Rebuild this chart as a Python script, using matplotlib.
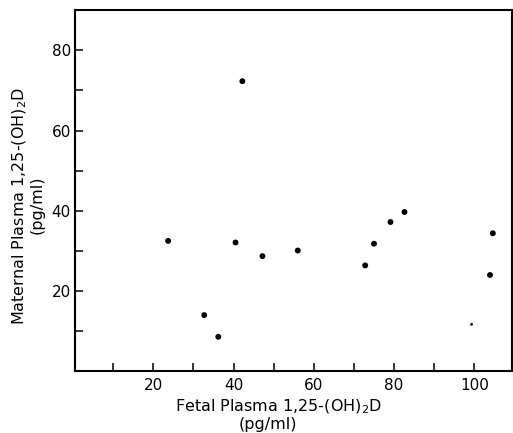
import matplotlib
matplotlib.use("Agg")
import matplotlib.pyplot as plt

plt.rcParams['font.family'] = ['DejaVu Sans']
plt.rcParams['mathtext.fontset'] = 'dejavusans'

fetal = [23.7, 42.2, 40.5, 32.7, 36.2, 47.2, 56.0, 72.8, 75.0, 79.1, 82.6, 104.6, 103.9]
maternal = [32.5, 72.3, 32.1, 14.0, 8.6, 28.7, 30.1, 26.4, 31.8, 37.2, 39.7, 34.4, 24.0]
faint_fetal = [99.3]
faint_maternal = [11.7]

x_ticks = [10, 20, 30, 40, 50, 60, 70, 80, 90, 100]
x_labels = ['', '20', '', '40', '', '60', '', '80', '', '100']
y_ticks = [10, 20, 30, 40, 50, 60, 70, 80]
y_labels = ['', '20', '', '40', '', '60', '', '80']

W, H = 513, 433
fig = plt.figure(figsize=(W / 100, H / 100), dpi=100)
ax = fig.add_axes([0.1462, 0.1425, 0.852, 0.834])

ax.scatter(fetal, maternal, s=18, color='black', edgecolors='none', zorder=3)
ax.scatter(faint_fetal, faint_maternal, s=4, color='black', marker='o', edgecolors='none', zorder=3)

ax.set_xlim(0.5, 109.4)
ax.set_ylim(0, 90)
ax.set_xticks(x_ticks)
ax.set_xticklabels(x_labels)
ax.set_yticks(y_ticks)
ax.set_yticklabels(y_labels)
ax.tick_params(direction='in', length=6, width=1.1, labelsize=11, colors='black', pad=3)
ax.tick_params(axis='x', pad=5)

for sp in ax.spines.values():
    sp.set_linewidth(1.5)
    sp.set_color('black')

def px(x, y):
    return x / W, 1 - y / H

fs = 11.5
fig.text(*px(278, 411), 'Fetal Plasma 1,25-(OH)$_2$D', fontsize=fs,
         ha='center', va='baseline')
fig.text(*px(268, 429), '(pg/ml)', fontsize=fs, ha='center', va='baseline')
fig.text(*px(24, 206), 'Maternal Plasma 1,25-(OH)$_2$D', fontsize=fs,
         ha='center', va='baseline', rotation=90, rotation_mode='anchor')
fig.text(*px(41.5, 205), '(pg/ml)', fontsize=fs, ha='center', va='baseline',
         rotation=90, rotation_mode='anchor')

fig.savefig('out.png', dpi=100, facecolor='white')
